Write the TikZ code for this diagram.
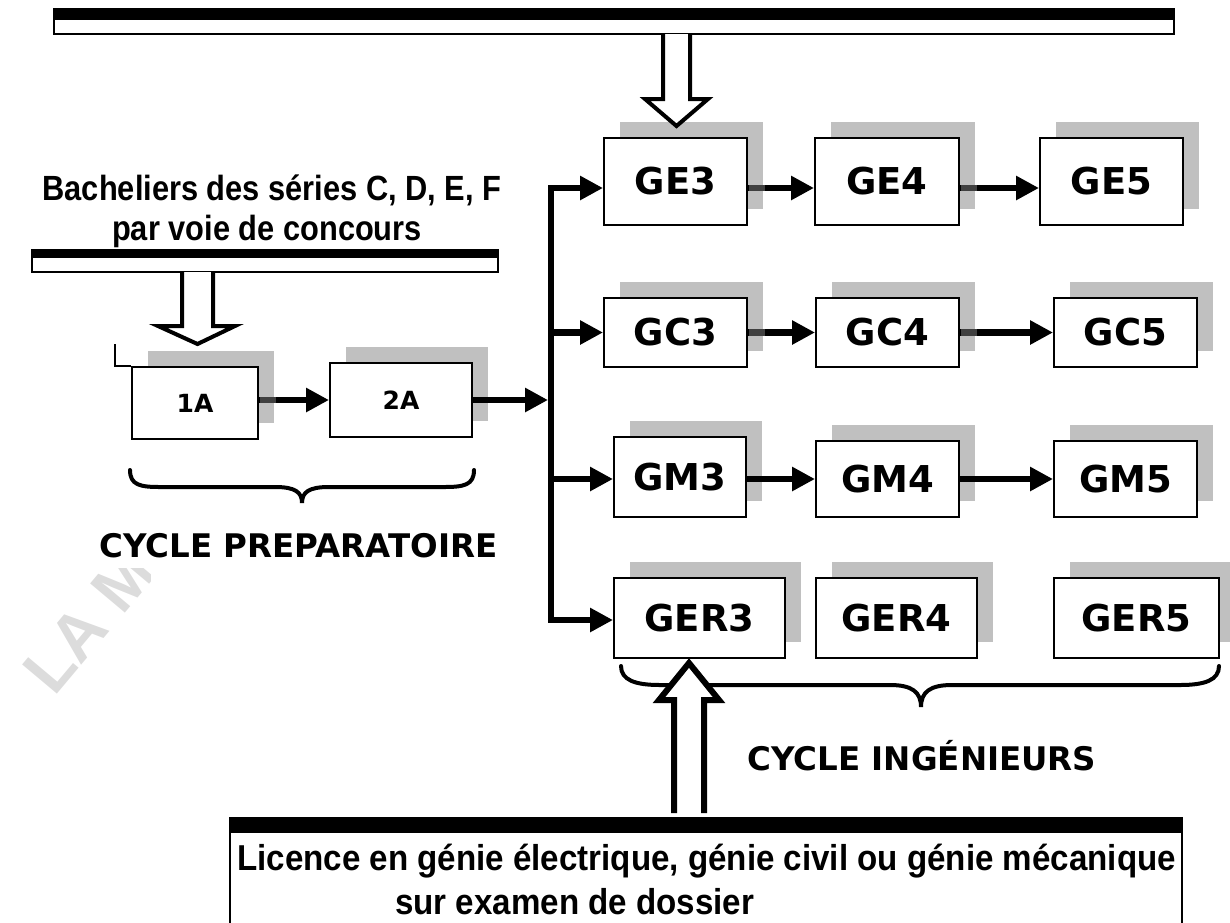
\documentclass[tikz,border=0pt]{standalone}
\usepackage{fontspec}
\setmainfont{Liberation Sans}
\newfontfamily\heavyfont{DejaVu Sans}
\newfontfamily\narrowfont{Liberation Sans}[FakeStretch=0.88]
\newfontfamily\widenarrowfont{Liberation Sans}[FakeStretch=0.92]
\usepackage{tikz}
\usetikzlibrary{positioning}
\usetikzlibrary{arrows.meta}
\usetikzlibrary{shadows}

\definecolor{shadowgray}{HTML}{C0C0C0}
\definecolor{overlapgray}{HTML}{404040}
\definecolor{markgray}{HTML}{DCDCDC}

\tikzset{
  box/.style={draw, line width=2pt, fill=white, inner sep=0pt,
    font=\heavyfont\bfseries\fontsize{37}{40}\selectfont,
    drop shadow={shadow xshift=16pt, shadow yshift=16pt, fill=shadowgray, opacity=1}},
  smallbox/.style={box, font=\heavyfont\bfseries\fontsize{25}{28}\selectfont},
  flow/.style={line width=6.5pt, ->},
  overlap/.style={line width=6.5pt, overlapgray},
  hollow/.style={draw, line width=4pt, fill=white, line join=miter},
  bartext/.style={inner sep=0pt, font=\narrowfont\bfseries\fontsize{35}{40}\selectfont},
  bottomtext/.style={inner sep=0pt, font=\widenarrowfont\bfseries\fontsize{36}{40}\selectfont},
  cyclelabel/.style={inner sep=0pt, font=\heavyfont\bfseries\fontsize{32.5}{36}\selectfont},
  brace/.style={line width=4pt, line cap=round},
}

\begin{document}
\begin{tikzpicture}[x=1pt, y=-1pt, >={Triangle[length=23pt,width=23pt]}]
  \useasboundingbox (0,0) rectangle (1230,922);

  % watermark fragment
  \begin{scope}
    \clip (0,568) rectangle (150,720);
    \node[inner sep=0pt, anchor=base west, rotate=50, text=markgray,
      font=\bfseries\fontsize{66}{66}\selectfont] (mark) at (54,698) {LA M};
  \end{scope}

  % entry bars
  \fill (54,9) rectangle (1174,20);
  \draw[line width=1.5pt] (54,9) rectangle (1174,34);
  \fill (32,250) rectangle (498,258);
  \draw[line width=1.5pt] (32,250) rectangle (498,272);
  \fill (230,817) rectangle (1182,833);
  \draw[line width=1.5pt] (230,817) -- (230,930);
  \draw[line width=1.5pt] (1182,817) -- (1182,930);

  % braces
  \draw[brace] (130,470) .. controls (130,485) and (140,487) .. (160,487) -- (275,487)
    .. controls (295,487) and (302,492) .. (302,503)
    .. controls (302,492) and (309,487) .. (329,487) -- (444,487)
    .. controls (464,487) and (474,485) .. (474,470);
  \draw[brace] (621,666) .. controls (621,680) and (635,685) .. (660,685) -- (890,685)
    .. controls (912,685) and (921,692) .. (921,707)
    .. controls (921,692) and (930,685) .. (952,685) -- (1180,685)
    .. controls (1205,685) and (1219,680) .. (1219,666);

  % preparatory cycle
  \node[smallbox, minimum width=126pt, minimum height=72pt] (1a) at (195,403) {1A};
  \node[smallbox, minimum width=142pt, minimum height=74pt] (2a) at (401,400) {2A};
  \draw[line width=1.5pt] (1a.north west) -- ++(-16,0) -- ++(0,-22);

  % engineering cycle
  \foreach \name/\txt/\x/\y/\w/\h in {
      ge3/GE3/675.5/181.5/143/87, ge4/GE4/887/181.5/144/87, ge5/GE5/1111.5/181.5/143/87,
      gc3/GC3/675.5/332.5/143/69, gc4/GC4/887.5/332.5/143/69, gc5/GC5/1125.5/332.5/143/69,
      gm3/GM3/680/477/132/80, gm4/GM4/887.5/479/143/76, gm5/GM5/1125.5/479/143/76,
      ger3/GER3/699.5/618/171/80, ger4/GER4/896.5/618/161/80, ger5/GER5/1136.5/618/165/80}
    \node[box, minimum width=\w pt, minimum height=\h pt] (\name) at (\x,\y) {\txt};

  % arrows between years
  \draw[flow] (1a.east |- 2a.west) -- (2a.west);
  \draw[overlap] (1a.east |- 2a.west) ++(1,0) -- ++(16,0);
  \draw[flow] ([yshift=-6.5pt]ge3.east) -- ([yshift=-6.5pt]ge4.west);
  \draw[flow] ([yshift=-6.5pt]ge4.east) -- ([yshift=-6.5pt]ge5.west);
  \draw[flow] (gc3.east) -- (gc4.west);
  \draw[flow] (gc4.east) -- (gc5.west);
  \draw[flow] (gm3.east |- gm4.west) -- (gm4.west);
  \draw[flow] (gm4.east) -- (gm5.west);
  \foreach \n in {ge3, ge4}
    \draw[overlap] ([shift={(1pt,-6.5pt)}]\n.east) -- ++(16,0);
  \foreach \n in {gc3, gc4}
    \draw[overlap] ([xshift=1pt]\n.east) -- ++(16,0);

  % split towards the four options
  \coordinate (bustop) at (551,188);
  \coordinate (busbot) at (551,620);
  \draw[flow] (2a.east) -- (2a.east -| 548,0);
  \draw[flow, <->] (ge3.west |- bustop) -- (bustop) -- (busbot) -- (ger3.west |- busbot);
  \draw[flow] (bustop |- gc3.west) -- (gc3.west);
  \draw[flow] (bustop |- gm4.west) -- (gm3.west |- gm4.west);

  % hollow entry arrows
  \draw[hollow] (663,34) -- (663,99) -- (645,99) -- (676.5,126) -- (708,99) -- (690,99) -- (690,34);
  \draw[hollow] (182,272) -- (182,326) -- (158,326) -- (197.5,344) -- (235,326) -- (213,326) -- (213,272);
  \draw[hollow, line width=6pt] (674,813) -- (674,700) -- (659,700) -- (689,663) -- (719,700) -- (704,700) -- (704,813);

  % texts
  \node[bartext, anchor=base] (bac1) at (272,200) {Bacheliers des séries C, D, E, F};
  \node[bartext, anchor=base] (bac2) at (267,240) {par voie de concours};
  \node[cyclelabel, anchor=base] (prep) at (298.5,557) {CYCLE PREPARATOIRE};
  \node[cyclelabel, anchor=base] (ing) at (922,770) {CYCLE INGÉNIEURS};
  \node[bottomtext, anchor=base west] (lic1) at (237,870) {Licence en génie électrique, génie civil ou génie mécanique};
  \node[bottomtext, anchor=base west] (lic2) at (395,914) {sur examen de dossier};
\end{tikzpicture}
\end{document}
